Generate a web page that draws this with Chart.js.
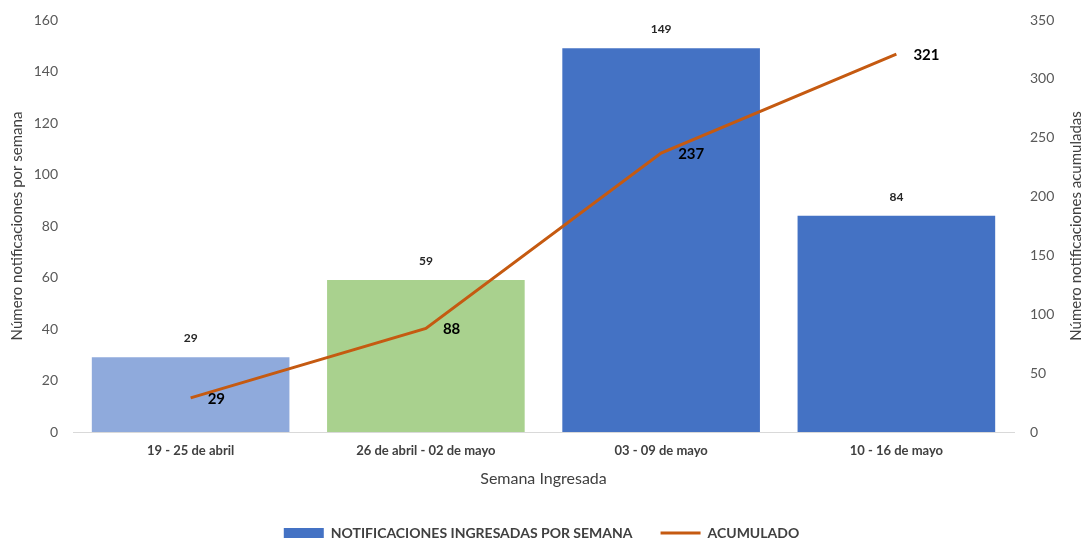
<!DOCTYPE html>
<html>
<head>
<meta charset="utf-8">
<script src="https://cdn.jsdelivr.net/npm/chart.js@4.4.1/dist/chart.umd.min.js"></script>
<style>
html,body{margin:0;padding:0;background:#fff;overflow:hidden;}
#wrap{width:1083px;height:550px;}
</style>
</head>
<body>
<div id="wrap"><canvas id="c" width="1083" height="550"></canvas></div>
<script>
const categories = ['19 - 25 de abril', '26 de abril - 02 de mayo', '03 - 09 de mayo', '10 - 16 de mayo'];
const weeklyValues = [29, 59, 149, 84];
const cumulativeValues = [29, 88, 237, 321];
const barColors = ['#8FAADC', '#A9D18E', '#4472C4', '#4472C4'];
const leftTicks = [0, 20, 40, 60, 80, 100, 120, 140, 160];
const rightTicks = [0, 50, 100, 150, 200, 250, 300, 350];
const seriesNames = ['NOTIFICACIONES INGRESADAS POR SEMANA', 'ACUMULADO'];
const axisTitles = {
  x: 'Semana Ingresada',
  left: 'Número notificaciones por semana',
  right: 'Número notificaciones acumuladas'
};

const FONT = 'Lato, "Open Sans", sans-serif';
const LINE_COLOR = '#C55A11';
const LEGEND_PAD = 28;
const LEGEND_FONT = 14;

const labelPlugin = {
  id: 'valueLabels',
  afterDatasetsDraw(chart) {
    const ctx = chart.ctx;
    ctx.save();
    const barMeta = chart.getDatasetMeta(0);
    ctx.font = 'bold 12px ' + FONT;
    ctx.fillStyle = '#262626';
    ctx.textAlign = 'center';
    ctx.textBaseline = 'middle';
    barMeta.data.forEach((el, i) => {
      ctx.fillText(String(chart.data.datasets[0].data[i]), el.x, el.y - 19);
    });
    const lineMeta = chart.getDatasetMeta(1);
    ctx.font = 'bold 15px ' + FONT;
    ctx.fillStyle = '#000000';
    ctx.textAlign = 'left';
    lineMeta.data.forEach((el, i) => {
      ctx.fillText(String(chart.data.datasets[1].data[i]), el.x + 17, el.y + 1);
    });
    const ca = chart.chartArea;
    ctx.font = '15px ' + FONT;
    ctx.fillStyle = '#404040';
    ctx.textAlign = 'center';
    ctx.translate(1076, (ca.top + ca.bottom) / 2);
    ctx.rotate(-Math.PI / 2);
    ctx.fillText(axisTitles.right, 0, 0);
    ctx.restore();
  }
};

new Chart(document.getElementById('c'), {
  data: {
    labels: categories,
    datasets: [
      {
        type: 'bar',
        label: seriesNames[0],
        data: weeklyValues,
        backgroundColor: barColors,
        borderWidth: 0,
        categoryPercentage: 0.84,
        barPercentage: 1.0,
        yAxisID: 'y',
        order: 1
      },
      {
        type: 'line',
        label: seriesNames[1],
        data: cumulativeValues,
        borderColor: LINE_COLOR,
        backgroundColor: LINE_COLOR,
        borderWidth: 3,
        pointRadius: 0,
        tension: 0,
        yAxisID: 'y1',
        order: 0
      }
    ]
  },
  options: {
    responsive: false,
    animation: false,
    devicePixelRatio: 1,
    layout: { padding: { top: 20, left: 0, right: 0, bottom: 0 } },
    plugins: {
      tooltip: { enabled: false },
      legend: {
        position: 'bottom',
        labels: {
          font: { family: FONT, size: LEGEND_FONT, weight: 'bold' },
          color: '#404040',
          usePointStyle: true,
          pointStyleWidth: 40,
          boxHeight: 10,
          padding: LEGEND_PAD,
          generateLabels(chart) {
            const items = Chart.defaults.plugins.legend.labels.generateLabels(chart);
            items.sort((a, b) => a.datasetIndex - b.datasetIndex);
            items.forEach(it => {
              if (it.datasetIndex === 0) {
                it.fillStyle = '#4472C4';
                it.strokeStyle = '#4472C4';
                it.lineWidth = 0;
                it.pointStyle = 'rect';
              } else {
                it.pointStyle = 'line';
                it.strokeStyle = LINE_COLOR;
                it.fillStyle = LINE_COLOR;
                it.lineWidth = 3;
              }
            });
            return items;
          }
        }
      }
    },
    scales: {
      x: {
        grid: { display: false, drawTicks: false },
        border: { display: true, color: '#D9D9D9', width: 1 },
        ticks: { font: { family: FONT, size: 13, weight: 'bold' }, color: '#404040', padding: 11, maxRotation: 0 },
        title: { display: true, text: axisTitles.x, font: { family: FONT, size: 16 }, color: '#404040', padding: { top: 10, bottom: 10 } },
        afterFit(scale) { scale.height = 550 - (LEGEND_FONT + LEGEND_PAD + 10) - 432; }
      },
      y: {
        position: 'left',
        min: 0, max: 160,
        afterBuildTicks(scale) { scale.ticks = leftTicks.map(v => ({ value: v })); },
        grid: { display: false, drawTicks: false },
        border: { display: false },
        ticks: { font: { family: FONT, size: 14 }, color: '#595959', padding: 15 },
        title: { display: true, text: axisTitles.left, font: { family: FONT, size: 15 }, color: '#404040', padding: { top: 8, bottom: 0 } },
        afterFit(scale) { scale.width = 73; scale.paddingTop = 9; scale.paddingBottom = 9; }
      },
      y1: {
        position: 'right',
        min: 0, max: 350,
        afterBuildTicks(scale) { scale.ticks = rightTicks.map(v => ({ value: v })); },
        grid: { display: false, drawTicks: false },
        border: { display: false },
        ticks: { font: { family: FONT, size: 14 }, color: '#595959', padding: 16 },
        afterFit(scale) { scale.width = 69; scale.paddingTop = 9; scale.paddingBottom = 9; }
      }
    }
  },
  plugins: [labelPlugin]
});
</script>
</body>
</html>
